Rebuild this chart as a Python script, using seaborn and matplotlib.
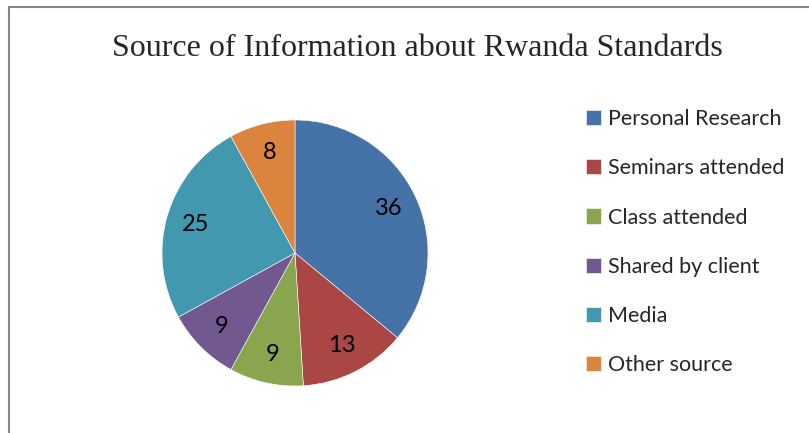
import matplotlib.pyplot as plt
import seaborn as sns
from matplotlib.lines import Line2D

sns.set_theme(style='white')
plt.rcParams['font.family'] = ['Lato', 'DejaVu Sans']

# data
sources = ['Personal Research', 'Seminars attended', 'Class attended',
           'Shared by client', 'Media', 'Other source']
counts = [36, 13, 9, 9, 25, 8]
colors = ['#4572A7', '#AA4643', '#89A54E', '#71588F', '#4198AF', '#DB843D']

W, H = 809, 433
fig = plt.figure(figsize=(W / 100, H / 100), dpi=100)

# pie axes: centre (295, 253) px, radius 133 px, limits +-1.25
side = 2.5 * 133
ax = fig.add_axes([(295 - side / 2) / W, (H - 253 - side / 2) / H, side / W, side / H])
total = sum(counts)
wedges, _, autotexts = ax.pie(
    counts,
    colors=sns.color_palette(colors),
    startangle=90,
    counterclock=False,
    autopct=lambda p: f'{p * total / 100:.0f}',
    pctdistance=0.78,
    wedgeprops=dict(edgecolor='white', linewidth=0.4),
    textprops=dict(fontsize=17, color='black'),
)
ax.set_xlim(-1.25, 1.25)
ax.set_ylim(-1.25, 1.25)
ax.set_aspect('equal')

fig.text(417 / W, 1 - 49 / H, 'Source of Information about Rwanda Standards',
         ha='center', va='center', fontsize=23, family='Liberation Serif')

fig.legend(wedges, sources, loc='upper left',
           bbox_to_anchor=(586 / W, 1 - 109 / H),
           frameon=False, fontsize=15.5, handlelength=0.7, handleheight=0.7,
           handletextpad=0.3, labelspacing=1.36, borderpad=0, borderaxespad=0)

# chart border (gray frame, partly cut off)
fig.add_artist(Line2D([8.5 / W, 8.5 / W], [0, 1 - 7 / H], color='#868686', lw=1.5,
                      transform=fig.transFigure))
fig.add_artist(Line2D([8.5 / W, 1], [1 - 7 / H, 1 - 7 / H], color='#868686', lw=1.5,
                      transform=fig.transFigure))

plt.savefig('out.png', dpi=100)
